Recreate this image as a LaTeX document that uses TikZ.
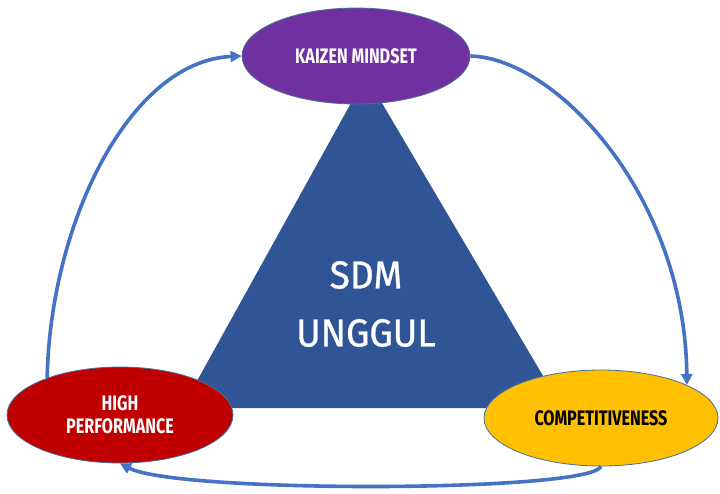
\documentclass[tikz,border=0pt]{standalone}
\usepackage{fontspec}
\usetikzlibrary{shapes.geometric,arrows.meta}
\newfontfamily\dinfont[FakeStretch=0.95,FakeBold=0.8]{Fira Sans}
\newfontfamily\dinbold[FakeStretch=0.77]{Fira Sans}
\definecolor{kaizen}{HTML}{7030A0}
\definecolor{highperf}{HTML}{C00000}
\definecolor{compet}{HTML}{FFC000}
\definecolor{sdmblue}{HTML}{2F5597}
\definecolor{flowblue}{HTML}{4472C4}
\definecolor{rimblue}{HTML}{41719C}
\begin{document}
\begin{tikzpicture}[x=1pt,y=-1pt,
  goal/.style={ellipse,draw=rimblue,line width=0.8pt,minimum width=228pt,minimum height=96pt,inner sep=0pt,align=center,font=\dinbold\bfseries\fontsize{21}{23}\selectfont},
  flow/.style={draw=flowblue,line width=3.6pt,-{Triangle[length=11pt,width=11pt]}}]
\useasboundingbox (0,0) rectangle (720,493);
% Drawing the triangle
\fill[sdmblue] (366,76) -- (562,408) -- (182,408) -- cycle;
\node[text=white,align=center,font=\dinfont\fontsize{39}{58}\selectfont] (sdm) at (366,304) {SDM\\UNGGUL};
% Done with triangle; drawing goals
\node[goal,fill=kaizen,text=white] (kaizen) at (356,56) {KAIZEN MINDSET};
\node[goal,fill=highperf,text=white,minimum width=226pt] (high) at (120,415) {HIGH\\PERFORMANCE};
\node[goal,fill=compet,text=black,minimum width=234pt] (compet) at (601,418) {COMPETITIVENESS};
% Done with goals; drawing the cycle
\draw[flow] (high.153) .. controls +(3,-155) and +(-112,5) .. (kaizen.west);
\draw[flow] (kaizen.east) .. controls +(85,2) and +(-2,-190) .. (compet.21);
\draw[flow] (compet.south) .. controls +(-11,26) and +(58,30) .. (high.south);
% Done with cycle
\end{tikzpicture}
\end{document}
